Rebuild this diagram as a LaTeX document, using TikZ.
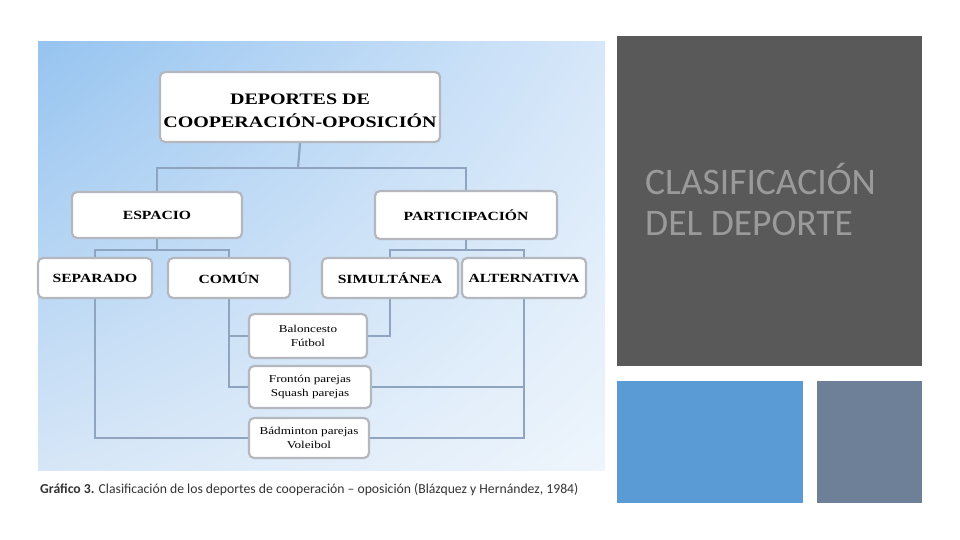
\documentclass[tikz,border=0pt]{standalone}
\usepackage{fontspec}
\setmainfont{Carlito}
\newfontfamily\boxfont[FakeStretch=1.25]{Liberation Serif}
\usetikzlibrary{calc,shadings}
\definecolor{darkbox}{HTML}{595959}
\definecolor{bluebox}{HTML}{5B9BD5}
\definecolor{slatebox}{HTML}{6E8098}
\definecolor{titlegray}{HTML}{9A9A9A}
\definecolor{linecol}{HTML}{8FA5BF}
\definecolor{boxedge}{HTML}{B4B8BE}
\definecolor{bgUL}{RGB}{150,196,240}
\definecolor{bgUR}{RGB}{214,231,249}
\definecolor{bgLL}{RGB}{214,230,247}
\definecolor{bgLR}{RGB}{238,245,252}
\pgfdeclarelayer{bg}
\pgfdeclarelayer{lines}
\pgfsetlayers{bg,lines,main}
\tikzset{
  cbox/.style={draw=boxedge, line width=2.2pt, fill=white, rounded corners=5pt,
    align=center, inner sep=2pt, font=\boxfont\bfseries\fontsize{12.5}{14}\selectfont},
  sbox/.style={cbox, font=\boxfont\fontsize{10.5}{14}\selectfont},
  conn/.style={draw=linecol, line width=2.2pt}
}
\begin{document}
\begin{tikzpicture}[x=1pt,y=-1pt]
\useasboundingbox (0,0) rectangle (960,540);
\begin{pgfonlayer}{bg}
\fill[white] (0,0) rectangle (960,540);
\shade[upper left=bgUL, upper right=bgUR, lower left=bgLL, lower right=bgLR]
  (38,42) rectangle (605,470);
\fill[darkbox] (617,36) rectangle (922,366);
\fill[bluebox] (617,381) rectangle (803,503);
\fill[slatebox] (817,381) rectangle (922,503);
\end{pgfonlayer}
\node[anchor=north west, align=left, text=titlegray, font=\fontsize{37.5}{41}\selectfont, inner sep=0pt]
  (title) at (645,163) {CLASIFICACIÓN\\DEL DEPORTE};
% caption
\node[anchor=west, inner sep=0pt, text=black!80, font=\fontsize{13.7}{15}\selectfont] (cap) at (40,490)
  {\textbf{Gráfico 3.} Clasificación de los deportes de cooperación – oposición (Blázquez y Hernández, 1984)};
% nodes
\node[cbox, minimum width=280, minimum height=70, font=\boxfont\bfseries\fontsize{16}{23}\selectfont] (top) at (300,107) {\rule{0pt}{19pt}DEPORTES DE\\COOPERACIÓN-OPOSICIÓN};
\node[cbox, minimum width=170, minimum height=46] (esp) at (157,215) {ESPACIO};
\node[cbox, minimum width=182, minimum height=48] (par) at (466,215) {PARTICIPACIÓN};
\node[cbox, minimum width=114, minimum height=40] (sep) at (95,278) {SEPARADO};
\node[cbox, minimum width=122, minimum height=40] (com) at (229,278) {COMÚN};
\node[cbox, minimum width=136, minimum height=40] (sim) at (390,278) {SIMULTÁNEA};
\node[cbox, minimum width=124, minimum height=40] (alt) at (524,278) {ALTERNATIVA};
\node[sbox, minimum width=118, minimum height=44] (b1) at (308,336) {Baloncesto\\Fútbol};
\node[sbox, minimum width=122, minimum height=42] (b2) at (310,387) {Frontón parejas\\Squash parejas};
\node[sbox, minimum width=120, minimum height=40] (b3) at (309,438) {Bádminton parejas\\Voleibol};
% connectors
\coordinate (j1) at (298,168);
\coordinate (j2) at (157,250);
\coordinate (j3) at (466,250);
\begin{pgfonlayer}{lines}
\draw[conn] (top.south) -- (j1);
\draw[conn] (esp.north) |- (j1) -| (par.north);
\draw[conn] (esp.south) -- (j2);
\draw[conn] (sep.north) |- (j2) -| (com.north);
\draw[conn] (par.south) -- (j3);
\draw[conn] (sim.north) |- (j3) -| (alt.north);
\draw[conn] (com.south) |- (b2.west);
\draw[conn] (com.south |- b1.west) -- (b1.west);
\draw[conn] (sim.south) |- (b1.east);
\draw[conn] (alt.south) |- (b3.east);
\draw[conn] (alt.south |- b2.east) -- (b2.east);
\draw[conn] (sep.south) |- (b3.west);
\end{pgfonlayer}
\end{tikzpicture}
\end{document}
